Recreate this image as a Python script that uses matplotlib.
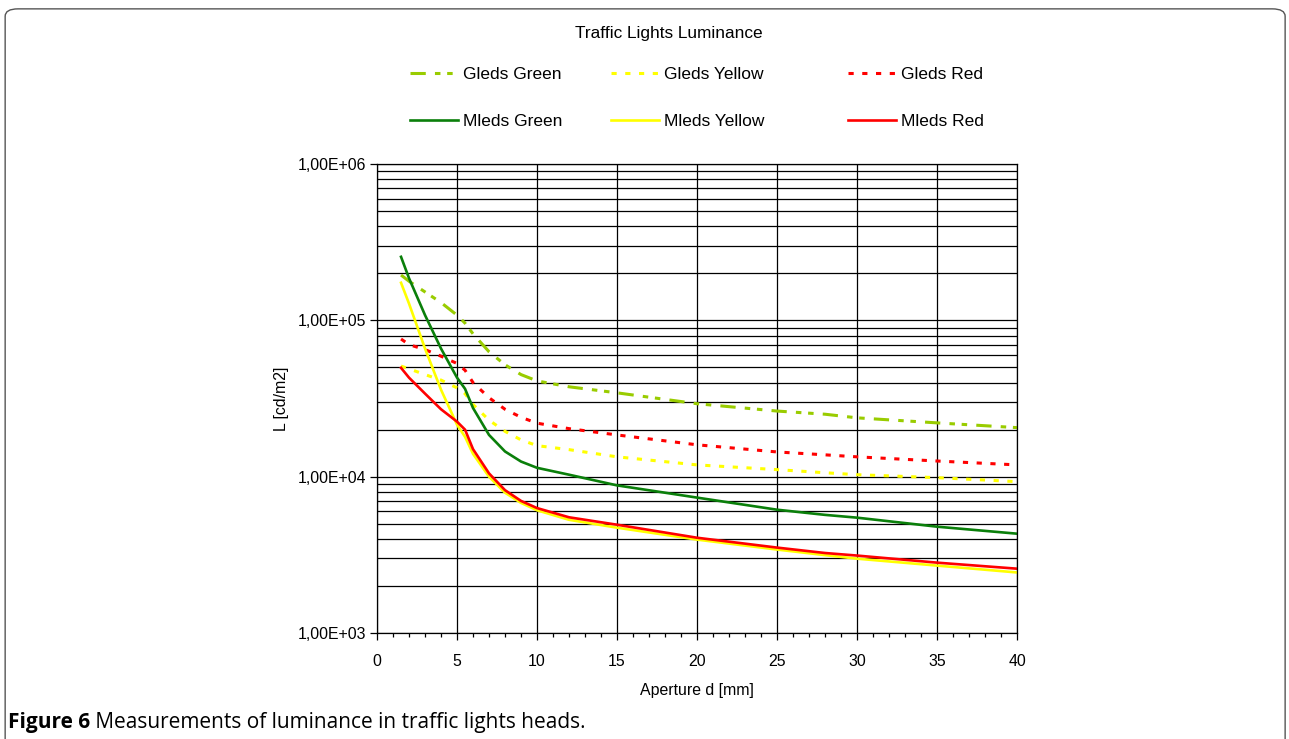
import matplotlib
matplotlib.use("Agg")
import matplotlib.pyplot as plt
from matplotlib.ticker import FixedLocator, LogLocator, FuncFormatter, NullFormatter
from matplotlib.patches import FancyBboxPatch

plt.rcParams['font.family'] = ['Liberation Sans', 'DejaVu Sans']

# aperture d [mm]
aperture = [1.5, 2, 3, 4, 5, 5.5, 6, 7, 8, 9, 10, 12, 15, 20, 25, 28, 30, 35, 40]

# luminance L [cd/m2]
gleds_green = [1.95e5, 1.78e5, 1.52e5, 1.30e5, 1.08e5, 9.6e4, 8.2e4, 6.3e4, 5.2e4, 4.5e4,
               4.1e4, 3.76e4, 3.44e4, 2.93e4, 2.63e4, 2.51e4, 2.38e4, 2.21e4, 2.06e4]
gleds_yellow = [5.1e4, 4.9e4, 4.5e4, 4.15e4, 3.7e4, 3.4e4, 2.9e4, 2.3e4, 1.95e4, 1.72e4,
                1.58e4, 1.49e4, 1.34e4, 1.19e4, 1.11e4, 1.06e4, 1.03e4, 9.86e3, 9.3e3]
gleds_red = [7.6e4, 7.0e4, 6.5e4, 5.9e4, 5.3e4, 4.8e4, 4.0e4, 3.2e4, 2.7e4, 2.4e4,
             2.2e4, 2.03e4, 1.85e4, 1.6e4, 1.44e4, 1.38e4, 1.34e4, 1.26e4, 1.19e4]
mleds_green = [2.55e5, 1.86e5, 1.08e5, 6.6e4, 4.3e4, 3.65e4, 2.75e4, 1.85e4, 1.45e4, 1.25e4,
               1.14e4, 1.03e4, 8.8e3, 7.35e3, 6.15e3, 5.7e3, 5.47e3, 4.79e3, 4.32e3]
mleds_yellow = [1.74e5, 1.28e5, 6.6e4, 3.6e4, 2.15e4, 1.8e4, 1.4e4, 1.0e4, 7.9e3, 6.8e3,
                6.1e3, 5.3e3, 4.72e3, 3.96e3, 3.42e3, 3.15e3, 2.99e3, 2.7e3, 2.44e3]
mleds_red = [4.97e4, 4.3e4, 3.4e4, 2.7e4, 2.25e4, 2.0e4, 1.5e4, 1.05e4, 8.2e3, 7.0e3,
             6.3e3, 5.5e3, 4.93e3, 4.07e3, 3.52e3, 3.25e3, 3.13e3, 2.82e3, 2.58e3]

fig = plt.figure(figsize=(12.89, 7.39), dpi=100)
ax = fig.add_axes([0.2925, 0.1434, 0.4965, 0.6346])

dashdot = (0, (5, 3, 1.8, 2.2, 1.8, 3))
dots = (0, (1.7, 2.8))

l_gg, = ax.plot(aperture, gleds_green, color='#99cc00', lw=2.2, linestyle=dashdot)
l_gy, = ax.plot(aperture, gleds_yellow, color='#ffff00', lw=2.2, linestyle=dots)
l_gr, = ax.plot(aperture, gleds_red, color='#ff0000', lw=2.2, linestyle=dots)
l_mg, = ax.plot(aperture, mleds_green, color='#0a7f0a', lw=1.9)
l_my, = ax.plot(aperture, mleds_yellow, color='#ffff00', lw=1.9)
l_mr, = ax.plot(aperture, mleds_red, color='#ff0000', lw=1.9)

ax.set_yscale('log')
ax.set_ylim(1e3, 1e6)
ax.set_xlim(0, 40)

ax.xaxis.set_major_locator(FixedLocator(range(0, 41, 5)))
ax.xaxis.set_minor_locator(FixedLocator(range(0, 41, 1)))
ax.yaxis.set_major_locator(LogLocator(base=10))
ax.yaxis.set_minor_locator(LogLocator(base=10, subs=range(2, 10)))
ax.yaxis.set_major_formatter(FuncFormatter(lambda v, p: f"{v:.2E}".replace('.', ',')))
ax.yaxis.set_minor_formatter(NullFormatter())

ax.grid(True, which='major', axis='both', color='black', lw=0.9)
ax.grid(True, which='minor', axis='y', color='black', lw=0.9)
ax.set_axisbelow(True)

ax.tick_params(axis='both', which='major', direction='out', length=5, width=0.9,
               labelsize=11.4, colors='black')
ax.tick_params(axis='x', which='major', pad=10)
ax.tick_params(axis='y', which='major', pad=3)
ax.tick_params(axis='x', which='minor', direction='out', length=3, width=0.9)
ax.tick_params(axis='y', which='minor', length=0)
for s in ax.spines.values():
    s.set_color('black')
    s.set_linewidth(0.9)

ax.set_xlabel("Aperture d [mm]", fontsize=11.4, labelpad=10)
ax.set_ylabel("L [cd/m2]", fontsize=11.4, labelpad=6)

fig.text(0.519, 0.954, "Traffic Lights Luminance", ha='center', va='center', fontsize=12.4)

# legend: three small two-row legends side by side
for x0, hs, labels in [(0.318, [l_gg, l_mg], ["Gleds Green", "Mleds Green"]),
                       (0.474, [l_gy, l_my], ["Gleds Yellow", "Mleds Yellow"]),
                       (0.658, [l_gr, l_mr], ["Gleds Red", "Mleds Red"])]:
    fig.legend(hs, labels, loc='upper left', bbox_to_anchor=(x0, 0.909),
               frameon=False, fontsize=12.5, handlelength=2.76, handletextpad=0.3,
               labelspacing=1.82, borderaxespad=0, borderpad=0)

# caption: bold label, then the rest right after it
t1 = fig.text(0.006, 0.022, "Figure 6", fontsize=15, fontweight='bold', family='Open Sans',
              ha='left', va='center')
fig.canvas.draw()
bb = t1.get_window_extent()
fig.text(bb.x1 / fig.bbox.width, 0.022, " Measurements of luminance in traffic lights heads.",
         fontsize=15, family='Open Sans', ha='left', va='center')

border = FancyBboxPatch((0.004, -0.02), 0.993, 1.008, boxstyle="round,pad=0,rounding_size=0.01",
                        transform=fig.transFigure, fill=False, edgecolor='#555555', lw=1.0)
fig.add_artist(border)

fig.savefig("out.png", dpi=100)
